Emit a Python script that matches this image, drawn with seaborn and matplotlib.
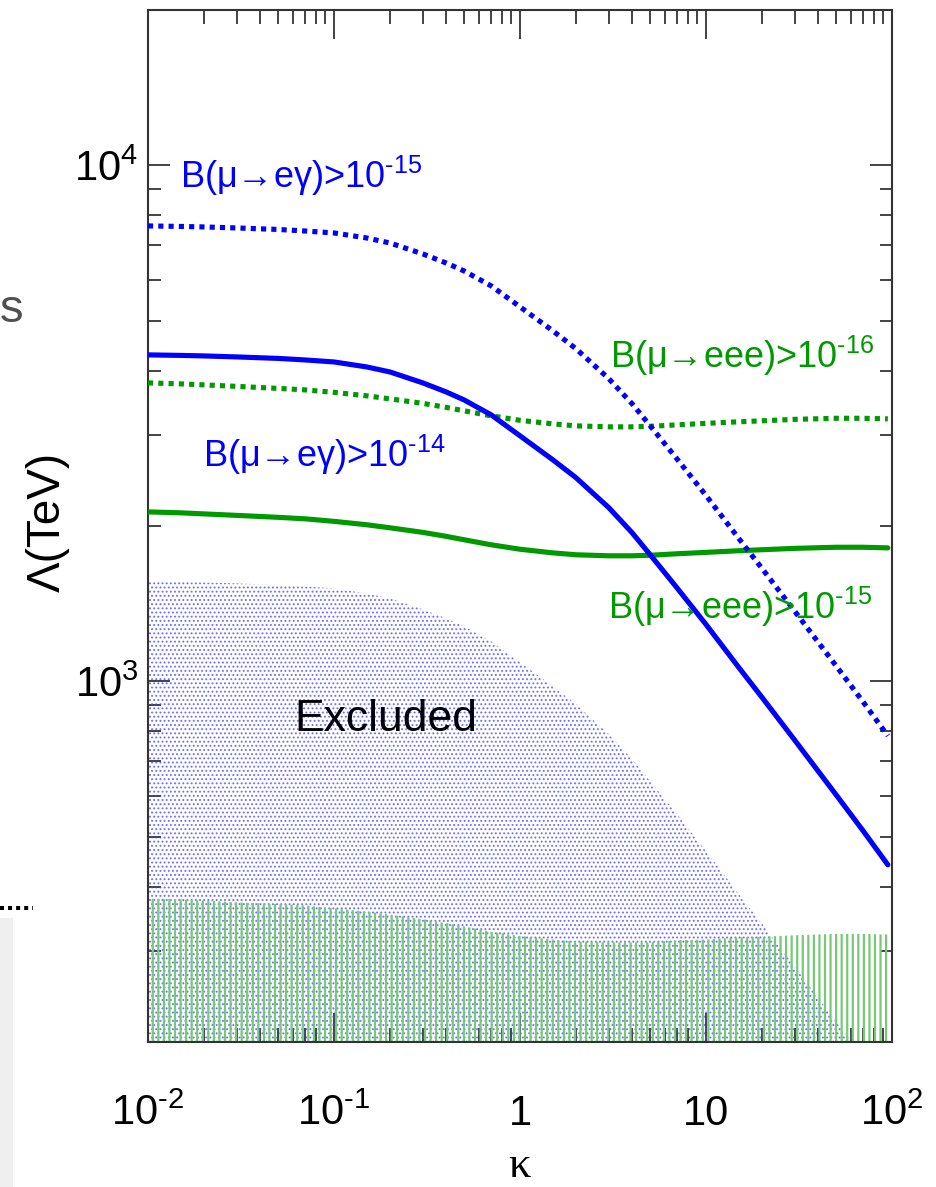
import numpy as np
import pandas as pd
import matplotlib
matplotlib.use("Agg")
import matplotlib.pyplot as plt
import seaborn as sns
from matplotlib.ticker import FixedLocator, FixedFormatter, LogLocator, NullFormatter
from matplotlib.patches import Rectangle
from matplotlib.lines import Line2D

# ---------------- data ----------------
kappa = [0.01, 0.015, 0.02, 0.03, 0.05, 0.07, 0.1, 0.15, 0.2, 0.3, 0.4, 0.5,
         0.7, 1, 1.5, 2, 3, 4, 5, 7, 10, 15, 20, 30, 50, 70, 95]
# Lambda (TeV) reach for B(mu->e gamma) > 1e-14 (solid blue)
lam_meg_1e14 = [4292, 4282, 4272, 4253, 4225, 4196, 4159, 4067, 3977, 3788,
                3639, 3511, 3284, 2991, 2688, 2481, 2171, 1942, 1761, 1516,
                1289, 1064, 931, 769, 603, 513, 441]
# Lambda reach for B(mu->e gamma) > 1e-15 (dotted blue)
lam_meg_1e15 = [7631, 7613, 7596, 7562, 7512, 7460, 7395, 7231, 7071, 6735,
                6470, 6243, 5839, 5318, 4779, 4411, 3860, 3453, 3131, 2695,
                2292, 1892, 1655, 1367, 1072, 912, 784]
# Lambda reach for B(mu->eee) > 1e-15 (solid green)
lam_eee_1e15 = [2130, 2121, 2111, 2097, 2079, 2065, 2042, 2011, 1984, 1944,
                1910, 1881, 1839, 1803, 1774, 1759, 1751, 1751, 1755, 1767,
                1778, 1791, 1799, 1810, 1819, 1819, 1814]
# Lambda reach for B(mu->eee) > 1e-16 (dotted green)
lam_eee_1e16 = [3788, 3771, 3754, 3729, 3696, 3671, 3631, 3575, 3527, 3457,
                3396, 3344, 3270, 3205, 3155, 3127, 3113, 3113, 3120, 3141,
                3162, 3184, 3198, 3219, 3234, 3234, 3226]
# upper edges of the excluded regions (current bounds)
excl_meg = [1562, 1559, 1555, 1548, 1538, 1527, 1514, 1480, 1448, 1379,
            1325, 1278, 1195, 1089, 978, 903, 790, 707, 641, 552,
            469, 387, 339, 280, 219, 187, 161]
excl_eee = [379, 378, 376, 373, 370, 368, 363, 358, 353, 346,
            340, 335, 327, 321, 316, 313, 312, 312, 312, 315,
            316, 319, 320, 322, 324, 324, 323]

HY = "\u2010"  # short hyphen used in the exponents
x_ticks = [0.01, 0.1, 1, 10, 100]
x_tick_labels = [r"$10^{%s2}$" % HY, r"$10^{%s1}$" % HY, "1", "10", r"$10^{2}$"]
y_ticks = [1000, 10000]
y_tick_labels = [r"$10^{3}$", r"$10^{4}$"]
X_LIM = (0.01, 100)
Y_LIM = (200, 20000)

BLUE = "#0000ff"
GREEN = "#009900"

df = pd.DataFrame({
    "kappa": kappa,
    "meg14": lam_meg_1e14,
    "meg15": lam_meg_1e15,
    "eee15": lam_eee_1e15,
    "eee16": lam_eee_1e16,
})

# ---------------- style ----------------
sns.set_theme(style="ticks")
plt.rcParams["font.family"] = ["Liberation Sans", "DejaVu Sans"]
plt.rcParams["mathtext.fontset"] = "custom"
plt.rcParams["mathtext.rm"] = "Liberation Sans"
plt.rcParams["mathtext.it"] = "Liberation Sans:italic"
plt.rcParams["mathtext.bf"] = "Liberation Sans:bold"
plt.rcParams["mathtext.fallback"] = "cm"

fig = plt.figure(figsize=(9.36, 11.87), dpi=100)
fig.patch.set_facecolor("white")
ax = fig.add_axes([148 / 936, 145 / 1187, 744 / 936, 1032 / 1187])
ax.set_facecolor("white")
ax.set_xscale("log")
ax.set_yscale("log")
ax.set_xlim(*X_LIM)
ax.set_ylim(*Y_LIM)

# ---------------- excluded regions ----------------
floor = [Y_LIM[0]] * len(kappa)
with plt.rc_context({"hatch.linewidth": 0.9}):
    pb = ax.fill_between(kappa, floor, excl_meg, facecolor="none",
                         edgecolor=(0.25, 0.25, 1.0, 0.7), hatch="....",
                         linewidth=0, zorder=1)
if hasattr(pb, "set_hatch_linewidth"):
    pb.set_hatch_linewidth(0.9)
with plt.rc_context({"hatch.linewidth": 1.6}):
    pg = ax.fill_between(kappa, floor, excl_eee, facecolor="none",
                         edgecolor="#78c878", hatch="|||",
                         linewidth=0, zorder=2)
if hasattr(pg, "set_hatch_linewidth"):
    pg.set_hatch_linewidth(1.6)

# ---------------- curves ----------------
LW = 3.7
sns.lineplot(data=df, x="kappa", y="meg15", ax=ax, color=BLUE, linewidth=LW,
             linestyle=(0, (1, 1)), dash_capstyle="butt",
             estimator=None, sort=False, zorder=4)
sns.lineplot(data=df, x="kappa", y="meg14", ax=ax, color=BLUE, linewidth=LW,
             estimator=None, sort=False, zorder=4)
sns.lineplot(data=df, x="kappa", y="eee16", ax=ax, color=GREEN, linewidth=LW,
             linestyle=(0, (1, 1)), dash_capstyle="butt",
             estimator=None, sort=False, zorder=3)
sns.lineplot(data=df, x="kappa", y="eee15", ax=ax, color=GREEN, linewidth=LW,
             estimator=None, sort=False, zorder=3)

ax.set_xlim(*X_LIM)
ax.set_ylim(*Y_LIM)

# ---------------- annotations ----------------
ax.text(0.0148, 9030, r"B(μ→eγ)>$10^{%s15}$" % HY, color=BLUE, fontsize=26,
        va="baseline", zorder=5)
ax.text(0.0198, 2600, r"B(μ→eγ)>$10^{%s14}$" % HY, color=BLUE, fontsize=26,
        va="baseline", zorder=5)
ax.text(3.05, 4050, r"B(μ→eee)>$10^{%s16}$" % HY, color=GREEN, fontsize=26,
        va="baseline", zorder=5)
ax.text(2.97, 1320, r"B(μ→eee)>$10^{%s15}$" % HY, color=GREEN, fontsize=26,
        va="baseline", zorder=5)
ax.text(0.0616, 800, "Excluded", color="black", fontsize=32, va="baseline", zorder=5)

# ---------------- axes, ticks ----------------
ax.xaxis.set_major_locator(FixedLocator(x_ticks))
ax.xaxis.set_major_formatter(FixedFormatter(x_tick_labels))
ax.xaxis.set_minor_locator(LogLocator(base=10, subs=np.arange(2, 10)))
ax.xaxis.set_minor_formatter(NullFormatter())
ax.yaxis.set_major_locator(FixedLocator(y_ticks))
ax.yaxis.set_major_formatter(FixedFormatter(y_tick_labels))
ax.yaxis.set_minor_locator(LogLocator(base=10, subs=np.arange(2, 10)))
ax.yaxis.set_minor_formatter(NullFormatter())

ax.tick_params(which="both", direction="in", top=True, right=True,
               color="#222222", width=1.2, labelsize=30, labelcolor="black")
ax.tick_params(axis="x", which="major", length=21, pad=60)
ax.tick_params(axis="x", which="minor", length=10)
ax.tick_params(axis="y", which="major", length=16, pad=7)
ax.tick_params(axis="y", which="minor", length=9)
for t in ax.xaxis.get_major_ticks():
    t.label1.set_va("baseline")

for s in ax.spines.values():
    s.set_linewidth(1.5)
    s.set_color("#333333")
    s.set_visible(True)

ax.set_xlabel("κ", fontsize=32, family=["Liberation Serif", "DejaVu Serif"],
              va="bottom", color="black")
ax.xaxis.set_label_coords((519 - 148) / 744, (1042 - 1186) / 1032)
ax.set_ylabel("Λ(TeV)", fontsize=33, va="center", ha="center", color="black")
ax.yaxis.set_label_coords((48 - 148) / 744, (1042 - 522) / 1032)

# ---------------- stray slide fragments at the left edge ----------------
fig.text(0.0, 1 - 322 / 1187, "s", color="#505050", fontsize=34,
         ha="left", va="baseline")
fig.add_artist(Line2D([0, 33 / 936], [1 - 908 / 1187] * 2, color="black",
                      linewidth=2.9, linestyle=(0, (1, 1)),
                      dash_capstyle="butt", transform=fig.transFigure))
fig.add_artist(Rectangle((0, 0), 13 / 936, (1187 - 918) / 1187,
                         transform=fig.transFigure, facecolor="#efefef",
                         edgecolor="none", zorder=0))

fig.savefig("out.png", dpi=100, facecolor="white")
